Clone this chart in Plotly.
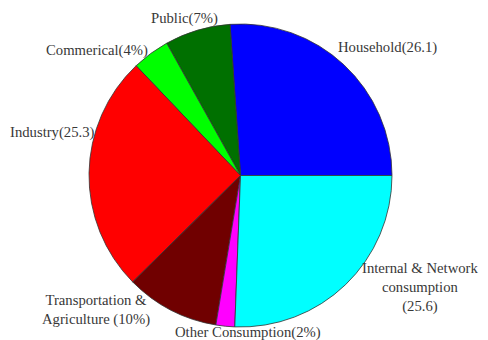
import plotly.graph_objects as go

categories = ["Household", "Public", "Commerical", "Industry",
              "Transportation & Agriculture", "Other Consumption",
              "Internal & Network consumption"]
values = [26.1, 7, 4, 25.3, 10, 2, 25.6]
colors = ["#0000FF", "#007000", "#00FF00", "#FF0000", "#700000", "#FF00FF", "#00FFFF"]
label_texts = ["Household(26.1)", "Public(7%)", "Commerical(4%)", "Industry(25.3)",
               "Transportation &<br>Agriculture (10%)", "Other Consumption(2%)",
               "Internal & Network<br>consumption<br>(25.6)"]
label_pos = [(387, 48), (184, 18), (97, 50), (52, 132), (96, 310), (248, 332), (420, 287)]

# page body has an 8px margin: figure is drawn at offset (8, 8) in the window
OFF = 8
W, H = 488 - OFF, 340 - OFF

def px(x):
    return (x - OFF) / W

def py(y):
    return 1 - (y - OFF) / H

first_share = values[0] / sum(values)
fig = go.Figure(go.Pie(
    labels=categories, values=values, sort=False, direction="counterclockwise",
    rotation=90 - 360 * first_share, textinfo="none", hoverinfo="label+value",
    marker=dict(colors=colors, line=dict(color="#333333", width=0.8)),
    domain=dict(x=[px(89), px(392)], y=[py(327), py(24)]),
    showlegend=False,
))
for t, (x, y) in zip(label_texts, label_pos):
    fig.add_annotation(x=px(x), y=py(y), xref="paper", yref="paper", text=t,
                       showarrow=False, xanchor="center", yanchor="middle",
                       font=dict(family="Liberation Serif", size=14.7, color="#383838"))
fig.update_layout(width=W, height=H, margin=dict(l=0, r=0, t=0, b=0),
                  paper_bgcolor="white", plot_bgcolor="white")
fig.write_html("out.html")
